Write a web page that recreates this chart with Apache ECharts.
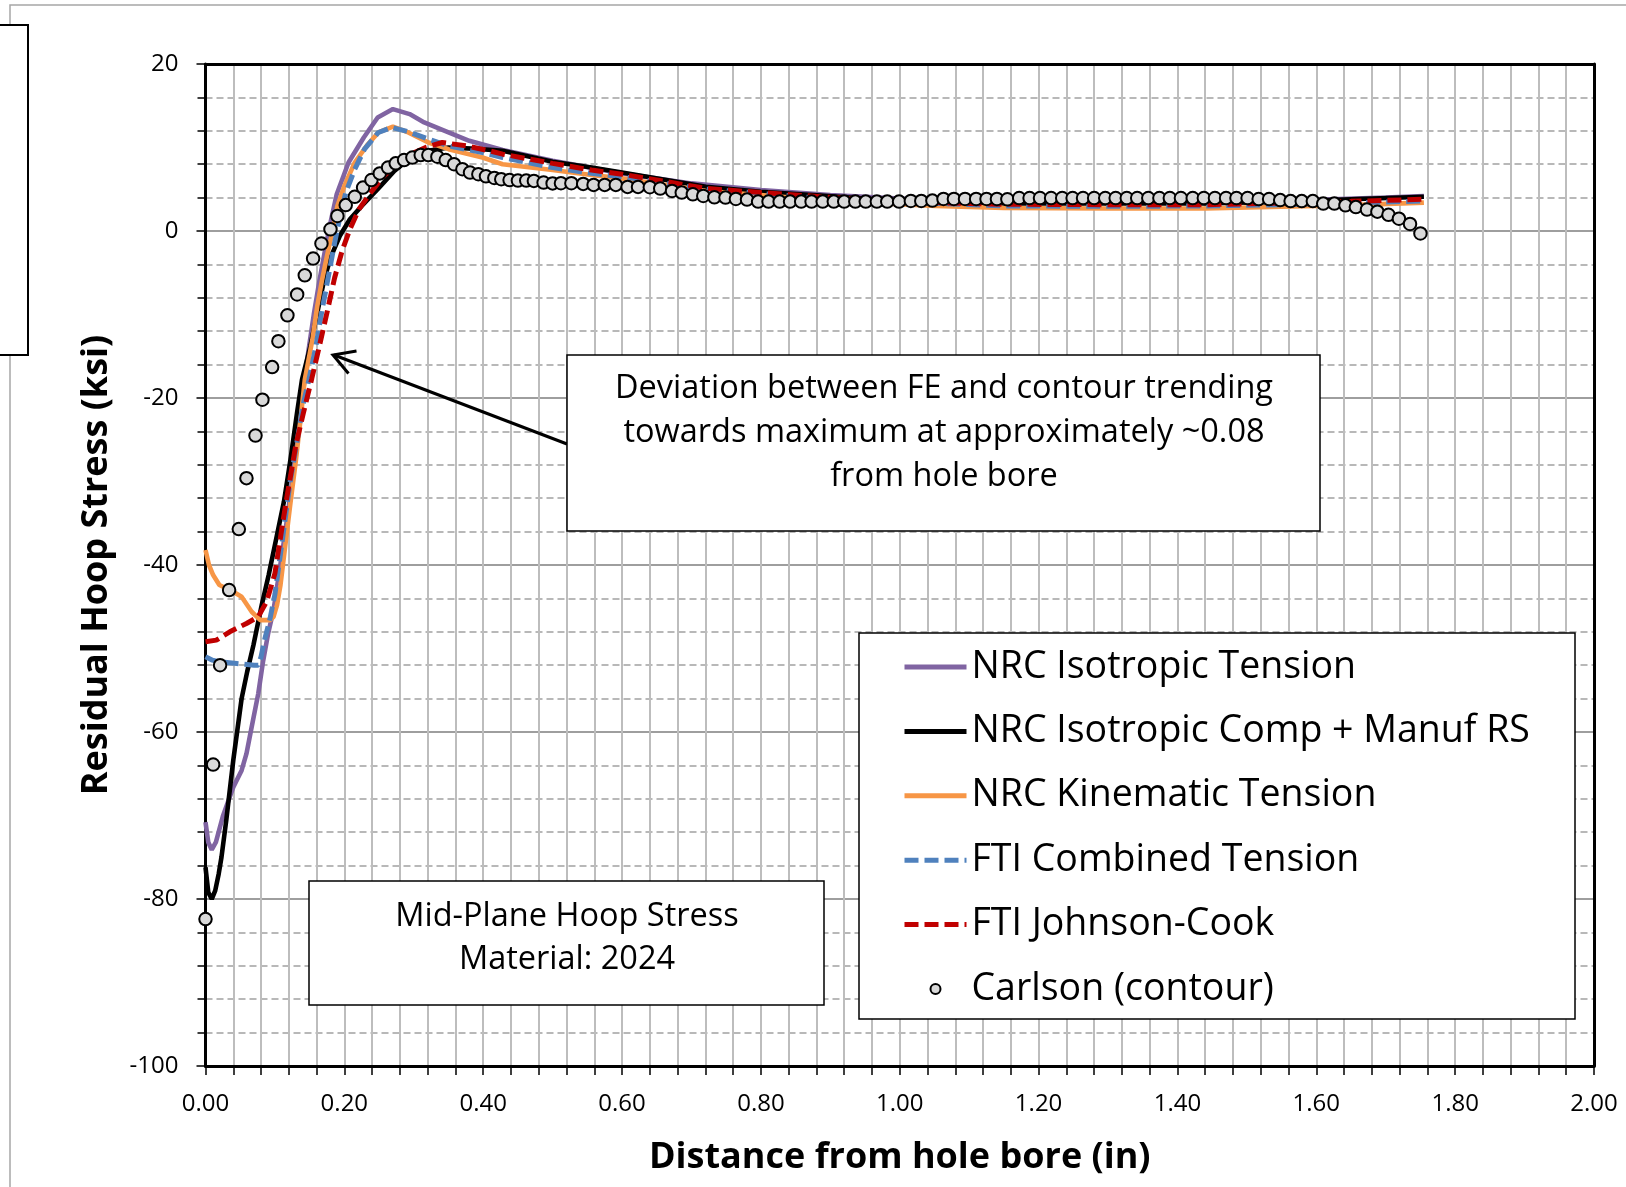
<!DOCTYPE html>
<html>
<head>
<meta charset="utf-8">
<script src="https://cdn.jsdelivr.net/npm/echarts@6/dist/echarts.min.js"></script>
<style>
  html, body { margin: 0; padding: 0; background: #ffffff; }
  #chart { width: 1626px; height: 1187px; }
</style>
</head>
<body>
<div id="chart"></div>
<script>
// Axis ranges (in, ksi)
const xRange = { min: 0, max: 2, step: 0.2 };
const yRange = { min: -100, max: 20, step: 20 };

// Series names, in legend order
const seriesNames = [
  'NRC Isotropic Tension',
  'NRC Isotropic Comp + Manuf RS',
  'NRC Kinematic Tension',
  'FTI Combined Tension',
  'FTI Johnson-Cook',
  'Carlson (contour)'
];

// [distance from hole bore (in), residual hoop stress (ksi)]
const nrcIsoTension = [
  [0, -70.8], [0.004, -73.2], [0.009, -74.1], [0.015, -73.2], [0.025, -70.1], [0.04, -66.6],
  [0.052, -64.6], [0.059, -62.6], [0.0665, -59.4], [0.076, -55.4], [0.083, -51.5], [0.09, -48.3],
  [0.098, -45.4], [0.106, -41], [0.115, -36], [0.124, -30.5], [0.132, -25], [0.14, -19.5],
  [0.148, -14.5], [0.156, -10], [0.164, -6], [0.172, -2.4], [0.18, 1], [0.189, 4.4], [0.206, 8.2],
  [0.228, 11.2], [0.248, 13.6], [0.27, 14.6], [0.294, 14.0], [0.315, 13.0], [0.35, 11.8],
  [0.38, 10.8], [0.428, 9.7], [0.5, 8.4], [0.6, 6.9], [0.7, 5.7], [0.8, 4.9], [0.9, 4.3],
  [1.0, 3.9], [1.1, 3.6], [1.2, 3.45], [1.3, 3.4], [1.4, 3.45], [1.5, 3.55], [1.6, 3.75],
  [1.7, 4.0], [1.755, 4.2]
];

const nrcIsoCompManuf = [
  [0, -76.2], [0.004, -79.2], [0.009, -80], [0.014, -79], [0.019, -77], [0.023, -75], [0.03, -70.5],
  [0.04, -63.4], [0.052, -56], [0.06, -52.8], [0.069, -49.6], [0.081, -44.8], [0.091, -41.2],
  [0.103, -36.4], [0.113, -32.4], [0.122, -27.6], [0.132, -21.7], [0.139, -17.8], [0.151, -13.8],
  [0.161, -9.8], [0.171, -5.8], [0.181, -3.0], [0.194, -0.5], [0.208, 1.4], [0.225, 3.0],
  [0.248, 5.0], [0.272, 7.2], [0.296, 8.8], [0.321, 9.6], [0.35, 10.0], [0.399, 9.8],
  [0.428, 9.6], [0.5, 8.3], [0.556, 7.6], [0.6, 7.0], [0.721, 5.3], [0.8, 4.7], [0.886, 4.24],
  [1.0, 3.6], [1.052, 3.5], [1.15, 3.3], [1.3, 3.3], [1.44, 3.3], [1.55, 3.5], [1.65, 3.8],
  [1.755, 4.1]
];

const nrcKinTension = [
  [0, -38.2], [0.005, -40], [0.011, -41.2], [0.02, -42.4], [0.04, -43.2], [0.052, -43.8],
  [0.06, -44.8], [0.0665, -45.6], [0.079, -46.6], [0.093, -46.6], [0.098, -46.2], [0.103, -44.8],
  [0.108, -42.4], [0.115, -37.6], [0.122, -32.8], [0.13, -27.6], [0.137, -22.5], [0.143, -17.8],
  [0.154, -13], [0.161, -9], [0.168, -5.8], [0.176, -2.6], [0.183, 0], [0.19, 3], [0.2, 5.4],
  [0.215, 8.2], [0.234, 10.4], [0.249, 11.8], [0.27, 12.5], [0.292, 11.8], [0.321, 10.6],
  [0.35, 9.8], [0.399, 8.8], [0.428, 8.0], [0.5, 7.3], [0.556, 6.7], [0.6, 6.3], [0.721, 4.8],
  [0.8, 4.3], [0.886, 3.7], [1.0, 3.2], [1.052, 3.0], [1.15, 2.75], [1.3, 2.7], [1.44, 2.7],
  [1.55, 2.9], [1.65, 3.1], [1.755, 3.4]
];

const ftiCombTension = [
  [0, -51], [0.01, -51.4], [0.02, -51.6], [0.045, -51.8], [0.07, -52], [0.076, -52], [0.08, -51],
  [0.085, -49], [0.093, -46.4], [0.1, -43.5], [0.105, -40.5], [0.113, -35.6], [0.122, -30],
  [0.131, -25.7], [0.14, -21], [0.149, -17.8], [0.159, -13.8], [0.168, -9.4], [0.178, -5],
  [0.186, -1.4], [0.193, 1.4], [0.202, 4.6], [0.215, 7.4], [0.229, 9.8], [0.249, 11.8],
  [0.268, 12.4], [0.292, 11.9], [0.321, 11.0], [0.35, 10.2], [0.399, 9.4], [0.428, 8.8],
  [0.5, 7.6], [0.556, 6.9], [0.6, 6.5], [0.721, 5.0], [0.8, 4.5], [0.886, 3.9], [1.0, 3.4],
  [1.052, 3.3], [1.15, 3.0], [1.3, 2.95], [1.44, 3.0], [1.55, 3.15], [1.65, 3.35], [1.755, 3.6]
];

const ftiJohnsonCook = [
  [0, -49.2], [0.0155, -49], [0.035, -48], [0.059, -47], [0.076, -46.2], [0.088, -44.4],
  [0.1, -41], [0.11, -35.6], [0.117, -32], [0.13, -25.7], [0.141, -21.8], [0.153, -17.7],
  [0.164, -13.8], [0.176, -9.4], [0.186, -5.6], [0.197, -2.3], [0.208, 0.2], [0.221, 2.6],
  [0.237, 4.5], [0.256, 6.5], [0.276, 8.0], [0.298, 9.3], [0.317, 10.0], [0.341, 10.6],
  [0.375, 10.2], [0.409, 9.6], [0.428, 9.2], [0.5, 8.1], [0.556, 7.3], [0.6, 6.8], [0.721, 5.1],
  [0.8, 4.6], [0.886, 4.1], [1.0, 3.5], [1.052, 3.4], [1.15, 3.2], [1.3, 3.15], [1.44, 3.15],
  [1.55, 3.35], [1.65, 3.55], [1.755, 3.8]
];

const carlsonContour = [
  [0.000, -82.4], [0.011, -63.9], [0.021, -52.0], [0.034, -43.0], [0.048, -35.7], [0.059, -29.6],
  [0.072, -24.5], [0.082, -20.2], [0.096, -16.3], [0.105, -13.2], [0.118, -10.1], [0.132, -7.6],
  [0.143, -5.3], [0.155, -3.3], [0.167, -1.5], [0.180, 0.2], [0.190, 1.8], [0.202, 3.1],
  [0.215, 4.1], [0.227, 5.2], [0.239, 6.1], [0.251, 6.9], [0.263, 7.6], [0.274, 8.1],
  [0.286, 8.5], [0.298, 8.8], [0.310, 9.1], [0.321, 9.1], [0.334, 8.9], [0.346, 8.5],
  [0.358, 8.0], [0.370, 7.4], [0.381, 7.0], [0.393, 6.8], [0.404, 6.55], [0.416, 6.35],
  [0.426, 6.2], [0.438, 6.1], [0.450, 6.04], [0.462, 6.04], [0.473, 6.0], [0.487, 5.8],
  [0.500, 5.7], [0.512, 5.72], [0.527, 5.72], [0.544, 5.64], [0.559, 5.52], [0.575, 5.52],
  [0.591, 5.52], [0.608, 5.28], [0.623, 5.28], [0.640, 5.24], [0.655, 5.08], [0.672, 4.8],
  [0.686, 4.6], [0.702, 4.4], [0.717, 4.2], [0.733, 4.04], [0.749, 4.0], [0.764, 3.84],
  [0.780, 3.76], [0.796, 3.52], [0.811, 3.52], [0.827, 3.52], [0.842, 3.52], [0.858, 3.52],
  [0.873, 3.52], [0.889, 3.52], [0.905, 3.52], [0.920, 3.52], [0.936, 3.52], [0.951, 3.52],
  [0.967, 3.52], [0.982, 3.52], [0.999, 3.52], [1.016, 3.6], [1.031, 3.6], [1.047, 3.64],
  [1.063, 3.84], [1.078, 3.84], [1.094, 3.84], [1.110, 3.84], [1.125, 3.84], [1.140, 3.84],
  [1.155, 3.8], [1.172, 3.95], [1.187, 3.95], [1.202, 3.95], [1.218, 3.95], [1.234, 3.95],
  [1.249, 3.95], [1.264, 3.95], [1.280, 3.95], [1.296, 3.95], [1.311, 3.95], [1.327, 3.95],
  [1.342, 3.95], [1.358, 3.95], [1.374, 3.95], [1.389, 3.95], [1.405, 3.95], [1.422, 3.95],
  [1.438, 3.95], [1.454, 3.95], [1.470, 3.95], [1.485, 3.95], [1.501, 3.95], [1.517, 3.83],
  [1.532, 3.83], [1.548, 3.7], [1.563, 3.58], [1.579, 3.58], [1.595, 3.58], [1.610, 3.28],
  [1.626, 3.28], [1.642, 3.07], [1.657, 2.86], [1.673, 2.57], [1.688, 2.32], [1.704, 1.94],
  [1.719, 1.47], [1.735, 0.84], [1.750, -0.29]
];

// Text boxes
const noteLines = [
  'Deviation between FE and contour trending',
  'towards maximum at approximately ~0.08',
  'from hole bore'
];
const infoLines = ['Mid-Plane Hoop Stress', 'Material: 2024'];
const xAxisTitle = 'Distance from hole bore (in)';
const yAxisTitle = 'Residual Hoop Stress (ksi)';

const FONT = '"Open Sans", Lato, "DejaVu Sans", sans-serif';
const GRID = { left: 205.5, top: 64, right: 32, bottom: 121 };

function lineSeries(name, data, color, dashed) {
  return {
    name: name,
    type: 'line',
    data: data,
    symbol: 'none',
    showSymbol: false,
    smooth: false,
    silent: true,
    z: 2,
    itemStyle: { color: color },
    lineStyle: {
      color: color,
      width: dashed ? 5 : 4.6,
      type: dashed ? [14, 6] : 'solid'
    }
  };
}

// legend entry for a line series: stroke only, no marker
function lineLegendItem(name) {
  return { name: name, itemStyle: { opacity: 0 }, lineStyle: { width: 5 } };
}

const chart = echarts.init(document.getElementById('chart'), null, { renderer: 'canvas' });

const hiddenAxisParts = {
  axisTick: { show: false },
  axisLabel: { show: false },
  splitLine: { show: false },
  minorTick: { show: false },
  minorSplitLine: { show: false }
};

chart.setOption({
  animation: false,
  backgroundColor: '#ffffff',
  grid: Object.assign({ outerBoundsMode: 'none', containLabel: false }, GRID),
  xAxis: [{
    type: 'value',
    min: xRange.min,
    max: xRange.max,
    interval: xRange.step,
    name: xAxisTitle,
    nameLocation: 'middle',
    nameGap: 74,
    nameTextStyle: { fontFamily: FONT, fontSize: 36, fontWeight: 'bold', color: '#000' },
    axisLine: { onZero: false, lineStyle: { color: '#000', width: 3 } },
    axisTick: { show: true, inside: false, length: 9, lineStyle: { color: '#000', width: 1.5 } },
    minorTick: { show: true, splitNumber: 5, length: 9, lineStyle: { color: '#000', width: 1.5 } },
    axisLabel: {
      margin: 26, fontFamily: FONT, fontSize: 24, color: '#000',
      formatter: function (v) { return v.toFixed(2); }
    },
    splitLine: { show: true, showMinLine: false, showMaxLine: false, lineStyle: { color: '#BDBDBD', width: 2 } },
    minorSplitLine: { show: true, lineStyle: { color: '#BDBDBD', width: 2 } }
  }, Object.assign({
    type: 'value', position: 'top', min: xRange.min, max: xRange.max, interval: xRange.step,
    axisLine: { onZero: false, lineStyle: { color: '#000', width: 3 } }
  }, hiddenAxisParts)],
  yAxis: [{
    type: 'value',
    min: yRange.min,
    max: yRange.max,
    interval: yRange.step,
    name: yAxisTitle,
    nameLocation: 'middle',
    nameGap: 91,
    nameTextStyle: { fontFamily: FONT, fontSize: 36, fontWeight: 'bold', color: '#000' },
    axisLine: { show: true, onZero: false, lineStyle: { color: '#000', width: 3 } },
    axisTick: { show: true, inside: false, length: 9, lineStyle: { color: '#000', width: 1.5 } },
    minorTick: { show: true, splitNumber: 5, length: 8, lineStyle: { color: '#000', width: 1.5 } },
    axisLabel: { margin: 27, fontFamily: FONT, fontSize: 24, color: '#000' },
    splitLine: { show: true, showMinLine: false, showMaxLine: false, lineStyle: { color: '#9E9E9E', width: 2 } },
    minorSplitLine: { show: true, lineStyle: { color: '#B8B8B8', width: 2, type: [7, 4] } }
  }, Object.assign({
    type: 'value', position: 'right', min: yRange.min, max: yRange.max, interval: yRange.step,
    axisLine: { show: true, onZero: false, lineStyle: { color: '#000', width: 3 } }
  }, hiddenAxisParts)],
  legend: {
    orient: 'vertical',
    left: 902,
    top: 647,
    padding: 0,
    itemGap: 24.4,
    itemWidth: 62,
    itemHeight: 20,
    selectedMode: false,
    z: 12,
    textStyle: { fontFamily: FONT, fontSize: 37.5, color: '#000', lineHeight: 40 },
    data: [
      lineLegendItem(seriesNames[0]),
      lineLegendItem(seriesNames[1]),
      lineLegendItem(seriesNames[2]),
      lineLegendItem(seriesNames[3]),
      lineLegendItem(seriesNames[4]),
      { name: seriesNames[5], icon: 'path://M0,0M62,20M36,10A5,5,0,1,1,26,10A5,5,0,1,1,36,10Z' }
    ]
  },
  series: [
    lineSeries(seriesNames[0], nrcIsoTension, '#8064A2', false),
    lineSeries(seriesNames[1], nrcIsoCompManuf, '#000000', false),
    lineSeries(seriesNames[2], nrcKinTension, '#F79646', false),
    lineSeries(seriesNames[3], ftiCombTension, '#4F81BD', true),
    lineSeries(seriesNames[4], ftiJohnsonCook, '#C00000', true),
    {
      name: seriesNames[5],
      type: 'scatter',
      data: carlsonContour,
      symbol: 'circle',
      symbolSize: 12.5,
      silent: true,
      z: 3,
      itemStyle: { color: '#D9D9D9', borderColor: '#000000', borderWidth: 2, opacity: 1 }
    }
  ],
  graphic: [
    // outer frame and the panel edge at the far left
    { type: 'rect', silent: true, z: 0, shape: { x: 10, y: 5, width: 1700, height: 1300 },
      style: { fill: null, stroke: '#A6A6A6', lineWidth: 1.5 } },
    { type: 'rect', silent: true, z: 1, shape: { x: -3, y: 25, width: 31, height: 330 },
      style: { fill: '#ffffff', stroke: '#000000', lineWidth: 2 } },
    // legend frame
    { type: 'rect', silent: true, z: 11, shape: { x: 859, y: 633, width: 716, height: 386 },
      style: { fill: '#ffffff', stroke: '#000000', lineWidth: 1.5 } },
    // note with arrow
    { type: 'polyline', silent: true, z: 11, shape: { points: [[567, 444], [334, 355]] },
      style: { stroke: '#000000', lineWidth: 3, fill: null } },
    { type: 'polyline', silent: true, z: 11, shape: { points: [[348.5, 373.5], [333, 355], [356.5, 351]] },
      style: { stroke: '#000000', lineWidth: 3, fill: null, lineJoin: 'miter' } },
    { type: 'rect', silent: true, z: 11, shape: { x: 567, y: 355, width: 753, height: 176 },
      style: { fill: '#ffffff', stroke: '#000000', lineWidth: 1.5 } },
    { type: 'text', silent: true, z: 12, x: 944, y: 433,
      style: { text: noteLines.join('\n'), fontFamily: FONT, fontSize: 32.5, lineHeight: 44,
               fill: '#000000', align: 'center', verticalAlign: 'middle' } },
    // material box
    { type: 'rect', silent: true, z: 11, shape: { x: 309, y: 881, width: 515, height: 124 },
      style: { fill: '#ffffff', stroke: '#000000', lineWidth: 1.5 } },
    { type: 'text', silent: true, z: 12, x: 567, y: 938,
      style: { text: infoLines.join('\n'), fontFamily: FONT, fontSize: 32.5, lineHeight: 43,
               fill: '#000000', align: 'center', verticalAlign: 'middle' } }
  ]
});
</script>
</body>
</html>
